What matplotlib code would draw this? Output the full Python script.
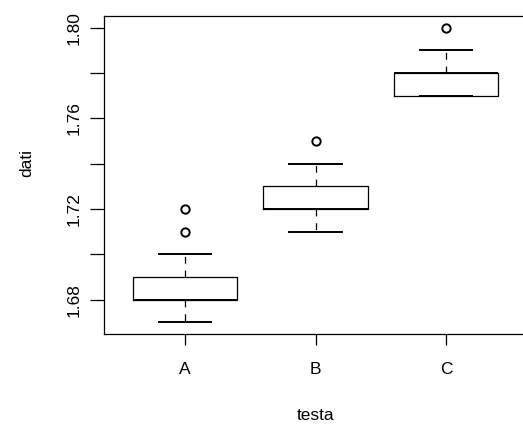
import matplotlib
matplotlib.use("Agg")
import matplotlib.pyplot as plt

plt.rcParams['font.family'] = ['Liberation Sans', 'DejaVu Sans']

# box statistics
groups = ['A', 'B', 'C']
whislo = [1.67, 1.71, 1.77]
q1 = [1.68, 1.72, 1.77]
med = [1.68, 1.72, 1.78]
q3 = [1.69, 1.73, 1.78]
whishi = [1.70, 1.74, 1.79]
fliers = [[1.71, 1.72], [1.75], [1.80]]

y_ticks = [1.68, 1.70, 1.72, 1.74, 1.76, 1.78, 1.80]
y_labels = ['1.68', '', '1.72', '', '1.76', '', '1.80']

stats = []
for i in range(len(groups)):
    stats.append(dict(label=groups[i], whislo=whislo[i], q1=q1[i], med=med[i],
                      q3=q3[i], whishi=whishi[i], fliers=fliers[i]))

W, H = 523, 429
fig = plt.figure(figsize=(W / 100, H / 100), dpi=100)
ax = fig.add_axes([104 / W, (H - 334) / H, (527 - 104) / W, (334 - 16) / H])

lw = 0.9
fs = 12.5
ax.bxp(stats, positions=[1, 2, 3], widths=0.8, showfliers=True,
       boxprops=dict(color='black', linewidth=lw),
       medianprops=dict(color='black', linewidth=1.4),
       whiskerprops=dict(color='black', linewidth=lw, linestyle=(0, (5.5, 5.5))),
       capprops=dict(color='black', linewidth=1.4),
       capwidths=0.4,
       flierprops=dict(marker='o', markerfacecolor='none', markeredgecolor='black',
                       markersize=6, markeredgewidth=1.4))

ax.set_xlim(0.38, 3.62)
ax.set_ylim(1.6648, 1.8052)

ax.set_yticks(y_ticks)
ax.set_yticklabels(y_labels, rotation=90, va='center', fontsize=fs)
ax.set_xticks([1, 2, 3])
ax.set_xticklabels(groups, fontsize=fs)
ax.tick_params(axis='y', length=10, width=0.9, pad=6)
ax.tick_params(axis='x', length=8, width=0.9, pad=12)

for s in ax.spines.values():
    s.set_linewidth(0.9)

fig.text(316 / W, 1 - 416 / H, 'testa', ha='center', va='center', fontsize=fs)
fig.text(27 / W, 1 - 163 / H, 'dati', ha='center', va='center', rotation=90, fontsize=fs)

fig.savefig('out.png', dpi=100)
